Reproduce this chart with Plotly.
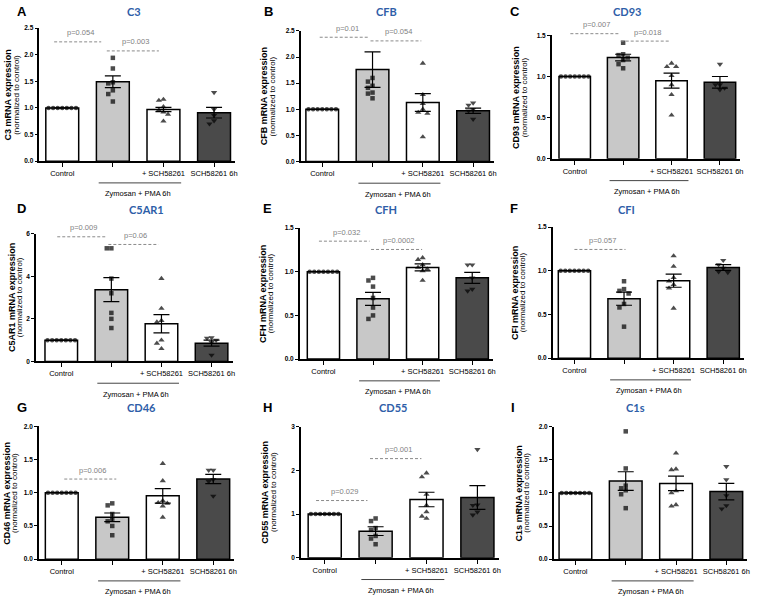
import plotly.graph_objects as go

# ---------------- data ----------------
genes = ["C3", "CFB", "CD93", "C5AR1", "CFH", "CFI", "CD46", "CD55", "C1s"]
panel_letters = ["A", "B", "C", "D", "E", "F", "G", "H", "I"]
group_labels = ["Control", "", "+ SCH58261", "SCH58261 6h"]
bracket_label = "Zymosan + PMA 6h"

control_pts = [1.0] * 7

means_C3 = [1.0, 1.49, 0.97, 0.91]
sem_C3 = [0, 0.11, 0.04, 0.10]
pts_C3 = [control_pts, [1.94, 1.74, 1.48, 1.46, 1.33, 1.26, 1.12],
          [1.16, 1.14, 1.02, 0.96, 0.92, 0.88, 0.75], [1.29, 0.97, 0.86, 0.76, 0.70]]
pv_C3 = [(-0.16, 0.77, 2.24, "p=0.054"), (0.88, 1.91, 2.07, "p=0.003")]

means_CFB = [1.0, 1.76, 1.13, 0.97]
sem_CFB = [0, 0.34, 0.17, 0.05]
pts_CFB = [control_pts, [1.60, 1.53, 1.45, 1.41, 1.32, 1.30, 1.21],
           [1.88, 1.28, 1.11, 1.00, 0.94, 0.92, 0.47], [1.12, 1.08, 1.00, 0.97, 0.81]]
pv_CFB = [(-0.05, 0.94, 2.38, "p=0.01"), (0.96, 1.97, 2.31, "p=0.054")]

means_CD93 = [1.0, 1.23, 0.95, 0.93]
sem_CD93 = [0, 0.04, 0.09, 0.07]
pts_CD93 = [control_pts, [1.41, 1.27, 1.26, 1.23, 1.20, 1.15, 1.10],
            [1.16, 1.12, 1.12, 1.01, 0.90, 0.78, 0.53], [1.15, 0.90, 0.90, 0.86, 0.84]]
pv_CD93 = [(-0.09, 0.91, 1.52, "p=0.007"), (0.95, 1.97, 1.43, "p=0.018")]

means_C5AR1 = [1.0, 3.37, 1.77, 0.86]
sem_C5AR1 = [0, 0.56, 0.43, 0.14]
pts_C5AR1 = [control_pts, [5.31, 5.31, 3.89, 3.20, 2.28, 2.00, 1.57],
             [3.89, 2.49, 1.92, 1.85, 1.00, 0.85, 0.60], [1.12, 1.10, 1.00, 0.90, 0.30]]
pv_C5AR1 = [(-0.08, 0.88, 5.85, "p=0.009"), (0.94, 1.94, 5.49, "p=0.06")]

means_CFH = [1.0, 0.69, 1.05, 0.93]
sem_CFH = [0, 0.075, 0.04, 0.063]
pts_CFH = [control_pts, [0.93, 0.90, 0.83, 0.70, 0.59, 0.50, 0.46],
           [1.16, 1.14, 1.08, 1.05, 1.03, 1.01, 0.90], [1.08, 1.08, 0.93, 0.80, 0.78]]
pv_CFH = [(-0.09, 0.93, 1.35, "p=0.032"), (0.96, 1.99, 1.255, "p=0.0002")]

means_CFI = [1.0, 0.68, 0.886, 1.037]
sem_CFI = [0, 0.075, 0.075, 0.033]
pts_CFI = [control_pts, [0.88, 0.79, 0.77, 0.74, 0.62, 0.58, 0.36],
           [1.17, 1.05, 0.92, 0.88, 0.84, 0.80, 0.57], [1.12, 1.07, 1.03, 0.99, 0.98]]
pv_CFI = [(0.0, 1.03, 1.244, "p=0.057")]

means_CD46 = [1.0, 0.63, 0.953, 1.206]
sem_CD46 = [0, 0.065, 0.11, 0.07]
pts_CD46 = [control_pts, [0.84, 0.81, 0.68, 0.61, 0.57, 0.50, 0.36],
            [1.44, 1.18, 0.88, 0.85, 0.84, 0.80, 0.63], [1.34, 1.34, 1.20, 1.17, 0.95]]
pv_CD46 = [(0.05, 1.08, 1.206, "p=0.006")]

means_CD55 = [1.0, 0.61, 1.334, 1.38]
sem_CD55 = [0, 0.10, 0.166, 0.27]
pts_CD55 = [control_pts, [0.90, 0.84, 0.68, 0.64, 0.50, 0.44, 0.31],
            [1.94, 1.85, 1.45, 1.20, 1.05, 0.95, 0.90], [2.48, 1.21, 1.20, 1.05, 0.98]]
pv_CD55 = [(-0.17, 0.84, 1.31, "p=0.029"), (0.89, 1.90, 2.27, "p=0.001")]

means_C1s = [1.0, 1.18, 1.144, 1.02]
sem_C1s = [0, 0.14, 0.11, 0.125]
pts_C1s = [control_pts, [1.93, 1.37, 1.11, 1.07, 1.04, 0.98, 0.77],
           [1.60, 1.36, 1.35, 1.03, 1.00, 0.82, 0.80], [1.40, 1.20, 0.96, 0.81, 0.76]]
pv_C1s = []

y_max = [2.5, 2.5, 1.5, 6, 1.5, 1.5, 2.0, 3, 2.0]
y_step = [0.5, 0.5, 0.5, 2, 0.5, 0.5, 0.5, 1, 0.5]

panels = [
    (means_C3, sem_C3, pts_C3, pv_C3),
    (means_CFB, sem_CFB, pts_CFB, pv_CFB),
    (means_CD93, sem_CD93, pts_CD93, pv_CD93),
    (means_C5AR1, sem_C5AR1, pts_C5AR1, pv_C5AR1),
    (means_CFH, sem_CFH, pts_CFH, pv_CFH),
    (means_CFI, sem_CFI, pts_CFI, pv_CFI),
    (means_CD46, sem_CD46, pts_CD46, pv_CD46),
    (means_CD55, sem_CD55, pts_CD55, pv_CD55),
    (means_C1s, sem_C1s, pts_C1s, pv_C1s),
]

# ---------------- layout geometry (pixels) ----------------
W, H = 760, 601
# axis_x, first bar centre, pitch, y of 0, y of max, x of bold y-title
geom = [
    (39.5, 62.5, 50.8, 159.0, 24.3, 8.0),
    (302.0, 323.5, 50.5, 159.3, 27.3, 265.0),
    (554.0, 577.0, 48.6, 156.7, 31.7, 518.0),
    (36.0, 61.5, 50.3, 361.7, 232.3, 11.5),
    (301.0, 324.7, 49.8, 359.3, 226.7, 263.5),
    (555.0, 576.7, 49.8, 358.3, 225.7, 516.5),
    (39.0, 62.0, 50.7, 561.7, 427.3, 7.0),
    (302.0, 326.0, 51.1, 560.3, 427.7, 266.5),
    (556.0, 577.7, 50.5, 561.7, 427.7, 520.5),
]
letter_pos = [(22, 8), (270, 8), (517, 8), (22, 207), (269, 207), (516, 207), (22, 408), (269, 408), (515, 408)]
title_pos = [(135, 8), (388, 8), (629, 8), (147, 208), (388, 208), (629, 208), (142, 408), (395, 408), (638, 408)]

bar_colors = ["#ffffff", "#c8c8c8", "#ffffff", "#4a4a4a"]
symbols = ["circle", "square", "triangle-up", "triangle-down"]
sizes = [4.5, 4.5, 5.5, 5.5]
FONT = "Liberation Sans, Arial, sans-serif"
TITLE_BLUE = "#2e5ea8"
GRAY = "#7f7f7f"


def swarm(vals, ppu, pitch, msize=4.6):
    """deterministic side-by-side placement of overlapping points"""
    placed = []
    offs = []
    cands = [0, -1, 1, -2, 2, -3, 3, -4, 4]
    for v in vals:
        for c in cands:
            cpx = c * msize
            ok = all(not (abs((v - pv) * ppu) < msize and abs(cpx - pc) < msize) for pv, pc in placed)
            if ok:
                break
        placed.append((v, cpx))
        offs.append(cpx / pitch)
    return offs


fig = go.Figure()
shapes = []
annotations = []
layout = {}

for i, (means, sem, pts, pvs) in enumerate(panels):
    ax_x, c0, pitch, y0, ytop, ytitle_x = geom[i]
    xa = "x" if i == 0 else f"x{i+1}"
    ya = "y" if i == 0 else f"y{i+1}"
    xkey = "xaxis" if i == 0 else f"xaxis{i+1}"
    ykey = "yaxis" if i == 0 else f"yaxis{i+1}"
    xmin = (ax_x - c0) / pitch
    xmax = 3.42
    x_dom = [ax_x / W, (c0 + xmax * pitch) / W]
    y_dom = [1 - y0 / H, 1 - ytop / H]
    ppu = (y0 - ytop) / y_max[i]

    def yp(v):
        return 1 - (y0 - v * ppu) / H

    fig.add_trace(go.Bar(
        x=[0, 1, 2, 3], y=means, width=0.65,
        marker=dict(color=bar_colors, line=dict(color="black", width=1.5)),
        error_y=dict(type="data", array=sem, color="black", thickness=1.2, width=8),
        xaxis=xa, yaxis=ya, showlegend=False, hoverinfo="skip",
    ))
    xs, ys, syms, szs = [], [], [], []
    for g in range(4):
        offs = swarm(pts[g], ppu, pitch)
        for v, o in zip(pts[g], offs):
            xs.append(g + o)
            ys.append(v)
            syms.append(symbols[g])
            szs.append(sizes[g])
    fig.add_trace(go.Scatter(
        x=xs, y=ys, mode="markers", cliponaxis=False,
        marker=dict(symbol=syms, size=szs, color="black", line=dict(width=0)),
        xaxis=xa, yaxis=ya, showlegend=False, hoverinfo="skip",
    ))

    tick_fmt = ".1f" if y_step[i] < 1 else "d"
    nt = int(round(y_max[i] / y_step[i]))
    layout[xkey] = dict(
        domain=x_dom, range=[xmin, xmax], anchor=ya,
        showline=True, linecolor="black", linewidth=1.5,
        ticks="outside", ticklen=4, tickwidth=1.3, tickcolor="black",
        tickvals=[0, 1, 2, 3], ticktext=group_labels,
        tickfont=dict(family=FONT, size=7.5, color="black"),
        showgrid=False, zeroline=False, fixedrange=True,
    )
    layout[ykey] = dict(
        domain=y_dom, range=[0, y_max[i]], anchor=xa,
        showline=True, linecolor="black", linewidth=1.5,
        ticks="outside", ticklen=3, tickwidth=1.3, tickcolor="black",
        tickvals=[k * y_step[i] for k in range(nt + 1)], tickformat=tick_fmt,
        tickfont=dict(family=FONT, size=6.5, color="black", weight="bold"),
        showgrid=False, zeroline=False, fixedrange=True,
    )

    # significance brackets
    for (x0, x1, lvl, txt) in pvs:
        shapes.append(dict(type="line", xref=xa, yref="paper", x0=x0, x1=x1, y0=yp(lvl), y1=yp(lvl),
                           line=dict(color="#8a8a8a", width=1, dash="3px,2px")))
        annotations.append(dict(xref=xa, yref="paper", x=(x0 + x1) / 2 + 0.05, y=yp(lvl), yshift=9,
                                text=txt, showarrow=False, yanchor="middle",
                                font=dict(family=FONT, size=7.5, color=GRAY)))
    # treatment bracket
    yl = 1 - (y0 + 22) / H
    shapes.append(dict(type="line", xref=xa, yref="paper", x0=0.72, x1=2.35, y0=yl, y1=yl,
                       line=dict(color="#444444", width=1)))
    annotations.append(dict(xref=xa, yref="paper", x=1.5, y=1 - (y0 + 33) / H,
                            text=bracket_label, showarrow=False, yanchor="middle",
                            font=dict(family=FONT, size=7.5, color="black")))
    # y titles
    ymid = 1 - ((y0 + ytop) / 2) / H
    annotations.append(dict(xref="paper", yref="paper", x=ytitle_x / W, y=ymid,
                            text=f"<b>{genes[i]} mRNA expression</b>", textangle=-90,
                            showarrow=False, xanchor="center", yanchor="middle",
                            font=dict(family=FONT, size=9, color="black")))
    annotations.append(dict(xref="paper", yref="paper", x=(ytitle_x + 8.3) / W, y=ymid,
                            text="(normalized to control)", textangle=-90,
                            showarrow=False, xanchor="center", yanchor="middle",
                            font=dict(family=FONT, size=8, color="black")))
    # panel letter and gene title
    lx, ly = letter_pos[i]
    annotations.append(dict(xref="paper", yref="paper", x=lx / W, y=1 - ly / H,
                            text=f"<b>{panel_letters[i]}</b>", showarrow=False,
                            xanchor="center", yanchor="middle",
                            font=dict(family=FONT, size=13, color="black")))
    tx, ty = title_pos[i]
    annotations.append(dict(xref="paper", yref="paper", x=tx / W, y=1 - ty / H,
                            text=f"<b>{genes[i]}</b>", showarrow=False,
                            xanchor="center", yanchor="middle",
                            font=dict(family="Lato, Open Sans, sans-serif", size=11, color=TITLE_BLUE)))

fig.update_layout(
    width=W, height=H, margin=dict(l=0, r=0, t=0, b=0),
    paper_bgcolor="white", plot_bgcolor="white",
    shapes=shapes, annotations=annotations, barmode="overlay",
    **layout,
)
fig.write_html(
    "out.html",
    config={"displayModeBar": False},
    post_script="document.body.style.margin='0';document.body.style.padding='0';document.body.style.overflow='hidden';",
)
